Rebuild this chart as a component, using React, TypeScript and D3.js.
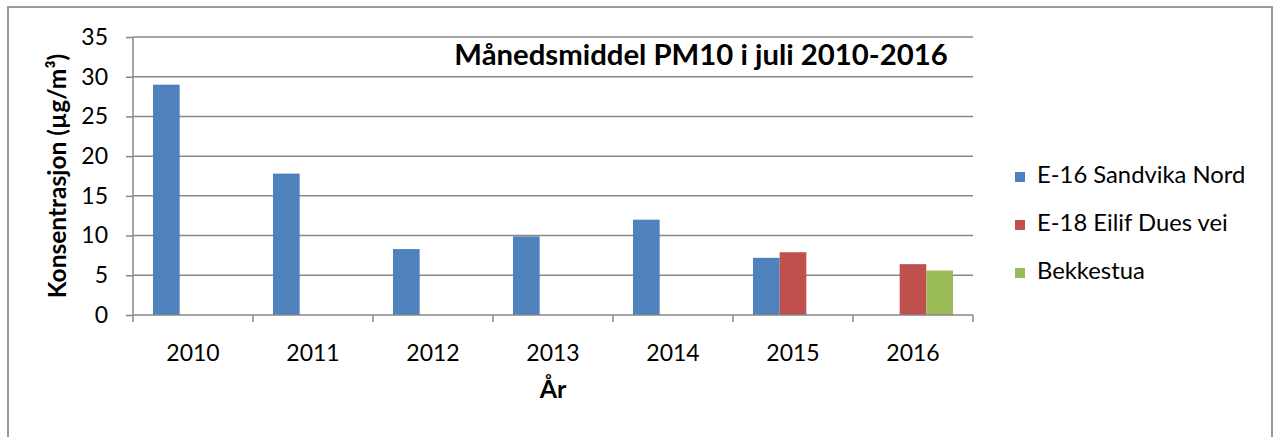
import React, { useEffect, useRef } from 'react';
import * as d3 from 'd3';

// PM10 monthly mean in July, µg/m³
const years = ['2010', '2011', '2012', '2013', '2014', '2015', '2016'];
const seriesNames = ['E-16 Sandvika Nord', 'E-18 Eilif Dues vei', 'Bekkestua'];
const sandvika: (number | null)[] = [29.0, 17.8, 8.3, 9.9, 12.0, 7.2, null];
const eilifDues: (number | null)[] = [null, null, null, null, null, 7.9, 6.4];
const bekkestua: (number | null)[] = [null, null, null, null, null, null, 5.6];
const colors = ['#4F81BD', '#C0504D', '#9BBB59'];
const yTicks = [0, 5, 10, 15, 20, 25, 30, 35];

const W = 1276;
const H = 437;
const FONT = 'Lato, "Open Sans", sans-serif';

function App() {
  const ref = useRef<SVGSVGElement>(null);

  useEffect(() => {
    const svg = d3.select(ref.current);
    svg.selectAll('*').remove();

    const left = 133, right = 973, top = 37, bottom = 315;
    const grid = '#878787';

    // outer frame
    svg.append('rect')
      .attr('x', 8).attr('y', 7).attr('width', 1264).attr('height', 460)
      .attr('fill', 'white').attr('stroke', '#9a9a9a').attr('stroke-width', 2);

    const x = d3.scaleBand().domain(years).range([left, right]).paddingInner(0).paddingOuter(0);
    // Excel style clustered bars with 150% gap width
    const bw = x.bandwidth() / (seriesNames.length + 1.5);
    const y = d3.scaleLinear().domain([0, 35]).range([bottom, top]);

    // gridlines
    svg.append('g').selectAll('line').data(yTicks.filter(d => d > 0)).join('line')
      .attr('x1', left).attr('x2', right)
      .attr('y1', d => y(d)).attr('y2', d => y(d))
      .attr('stroke', grid).attr('stroke-width', 1.5);

    // bars
    const all = [sandvika, eilifDues, bekkestua];
    all.forEach((vals, si) => {
      svg.append('g').selectAll('rect')
        .data(years.map((yr, i) => ({ yr, v: vals[i] })).filter(d => d.v != null))
        .join('rect')
        .attr('x', d => (x(d.yr) as number) + bw * 0.75 + si * bw)
        .attr('y', d => y(d.v as number))
        .attr('width', bw)
        .attr('height', d => bottom - y(d.v as number))
        .attr('fill', colors[si]);
    });

    // y axis
    const ya = svg.append('g').attr('transform', `translate(${left},0)`)
      .call(d3.axisLeft(y).tickValues(yTicks).tickSize(7).tickPadding(18).tickFormat(d3.format('d')));
    ya.select('.domain').attr('stroke', grid).attr('stroke-width', 1.5).attr('d', `M-0,${bottom}V${top}`);
    ya.selectAll('.tick line').attr('stroke', grid).attr('stroke-width', 1.5);
    ya.selectAll('.tick text').attr('font-family', FONT).attr('font-size', 23).attr('fill', '#000');

    // x axis
    const xa = svg.append('g').attr('transform', `translate(0,${bottom})`)
      .call(d3.axisBottom(x).tickSize(0).tickPadding(30));
    xa.select('.domain').attr('stroke', grid).attr('stroke-width', 1.5).attr('d', `M${left},0H${right}`);
    xa.selectAll('.tick text').attr('font-family', FONT).attr('font-size', 23).attr('fill', '#000');
    xa.selectAll('line.sep').data([...years.map(d => x(d) as number), right]).join('line')
      .attr('class', 'sep')
      .attr('x1', d => d).attr('x2', d => d).attr('y1', 0).attr('y2', 7)
      .attr('stroke', grid).attr('stroke-width', 1.5);

    // axis titles
    svg.append('text')
      .attr('transform', `translate(66,${(top + bottom) / 2}) rotate(-90)`)
      .attr('text-anchor', 'middle').attr('font-family', FONT).attr('font-weight', 'bold')
      .attr('font-size', 24.5).text('Konsentrasjon (µg/m³)');
    svg.append('text')
      .attr('x', (left + right) / 2).attr('y', 398)
      .attr('text-anchor', 'middle').attr('font-family', FONT).attr('font-weight', 'bold')
      .attr('font-size', 25).text('År');

    // chart title
    svg.append('text')
      .attr('x', 701).attr('y', 65)
      .attr('text-anchor', 'middle').attr('font-family', FONT).attr('font-weight', 'bold')
      .attr('font-size', 29.3).text('Månedsmiddel PM10 i juli 2010-2016');

    // legend
    const lg = svg.append('g').selectAll('g').data(seriesNames).join('g')
      .attr('transform', (d, i) => `translate(1015,${183 + i * 48})`);
    lg.append('rect').attr('x', 0).attr('y', -11).attr('width', 10).attr('height', 10)
      .attr('fill', (d, i) => colors[i]);
    lg.append('text').attr('x', 22).attr('y', 0)
      .attr('font-family', FONT).attr('font-size', 23.8).text(d => d);
  }, []);

  return (
    <svg ref={ref} width={W} height={H}
      style={{ position: 'absolute', left: 0, top: 0, background: 'white' }} />
  );
}

export default App;
